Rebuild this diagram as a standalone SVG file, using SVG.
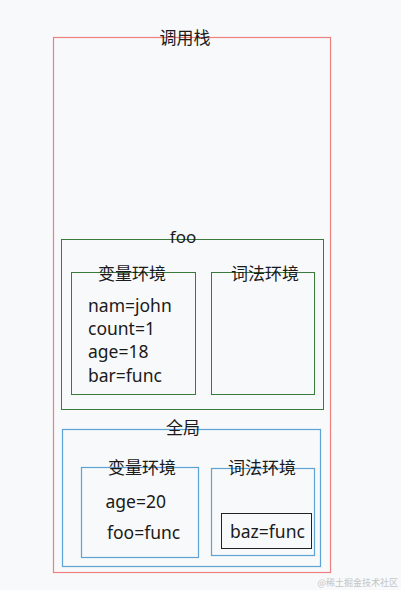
<svg xmlns="http://www.w3.org/2000/svg" width="401" height="590" viewBox="0 0 401 590">
<style>
  .t{font-family:"Noto Sans","Noto Sans CJK SC",sans-serif;font-size:17px;fill:#1a1a1a}
  .v{font-family:"Noto Sans","Noto Sans CJK SC",sans-serif;font-size:17.5px;fill:#1a1a1a}
  .m{text-anchor:middle}
  .red{fill:none;stroke:#ee8080;stroke-width:1.2}
  .green{fill:none;stroke:#3a7a3a;stroke-width:1}
  .blue{fill:none;stroke:#5ea3d6;stroke-width:1.2}
  .black{fill:none;stroke:#222;stroke-width:1}
</style>
<rect width="401" height="590" fill="#f8f9fa"/>
<g id="callstack">
  <rect class="red" x="53.5" y="37.5" width="277" height="535"/>
  <text class="t m" x="185" y="44">调用栈</text>
</g>
<g id="foo">
  <rect class="green" x="61.5" y="239.5" width="262" height="170"/>
  <text class="t m" x="183" y="243">foo</text>
</g>
<g id="foo-var">
  <rect class="green" x="71.5" y="272.5" width="124" height="122"/>
  <text class="t m" x="132" y="280">变量环境</text>
  <text class="v" x="88" y="312">nam=john</text>
  <text class="v" x="88" y="335">count=1</text>
  <text class="v" x="88" y="358">age=18</text>
  <text class="v" x="88" y="382">bar=func</text>
</g>
<g id="foo-lex">
  <rect class="green" x="211.5" y="272.5" width="103" height="122"/>
  <text class="t m" x="265" y="280">词法环境</text>
</g>
<g id="global">
  <rect class="blue" x="62.5" y="429.5" width="258" height="137"/>
  <text class="t m" x="183" y="434">全局</text>
</g>
<g id="global-var">
  <rect class="blue" x="81.5" y="467.5" width="117" height="90"/>
  <text class="t m" x="142" y="474">变量环境</text>
  <text class="v" x="105.5" y="508">age=20</text>
  <text class="v" x="107" y="539">foo=func</text>
</g>
<g id="global-lex">
  <rect class="blue" x="211.5" y="468.5" width="103" height="87"/>
  <text class="t m" x="262" y="474">词法环境</text>
</g>
<g id="baz">
  <rect class="black" x="221.5" y="513.5" width="90" height="35"/>
  <text class="v" x="230" y="537.5">baz=func</text>
</g>
<g id="connectors"></g>
<text x="398" y="586" text-anchor="end" font-family="Noto Sans CJK SC, sans-serif" font-size="9" fill="#c4c4c4">@稀土掘金技术社区</text>
</svg>
